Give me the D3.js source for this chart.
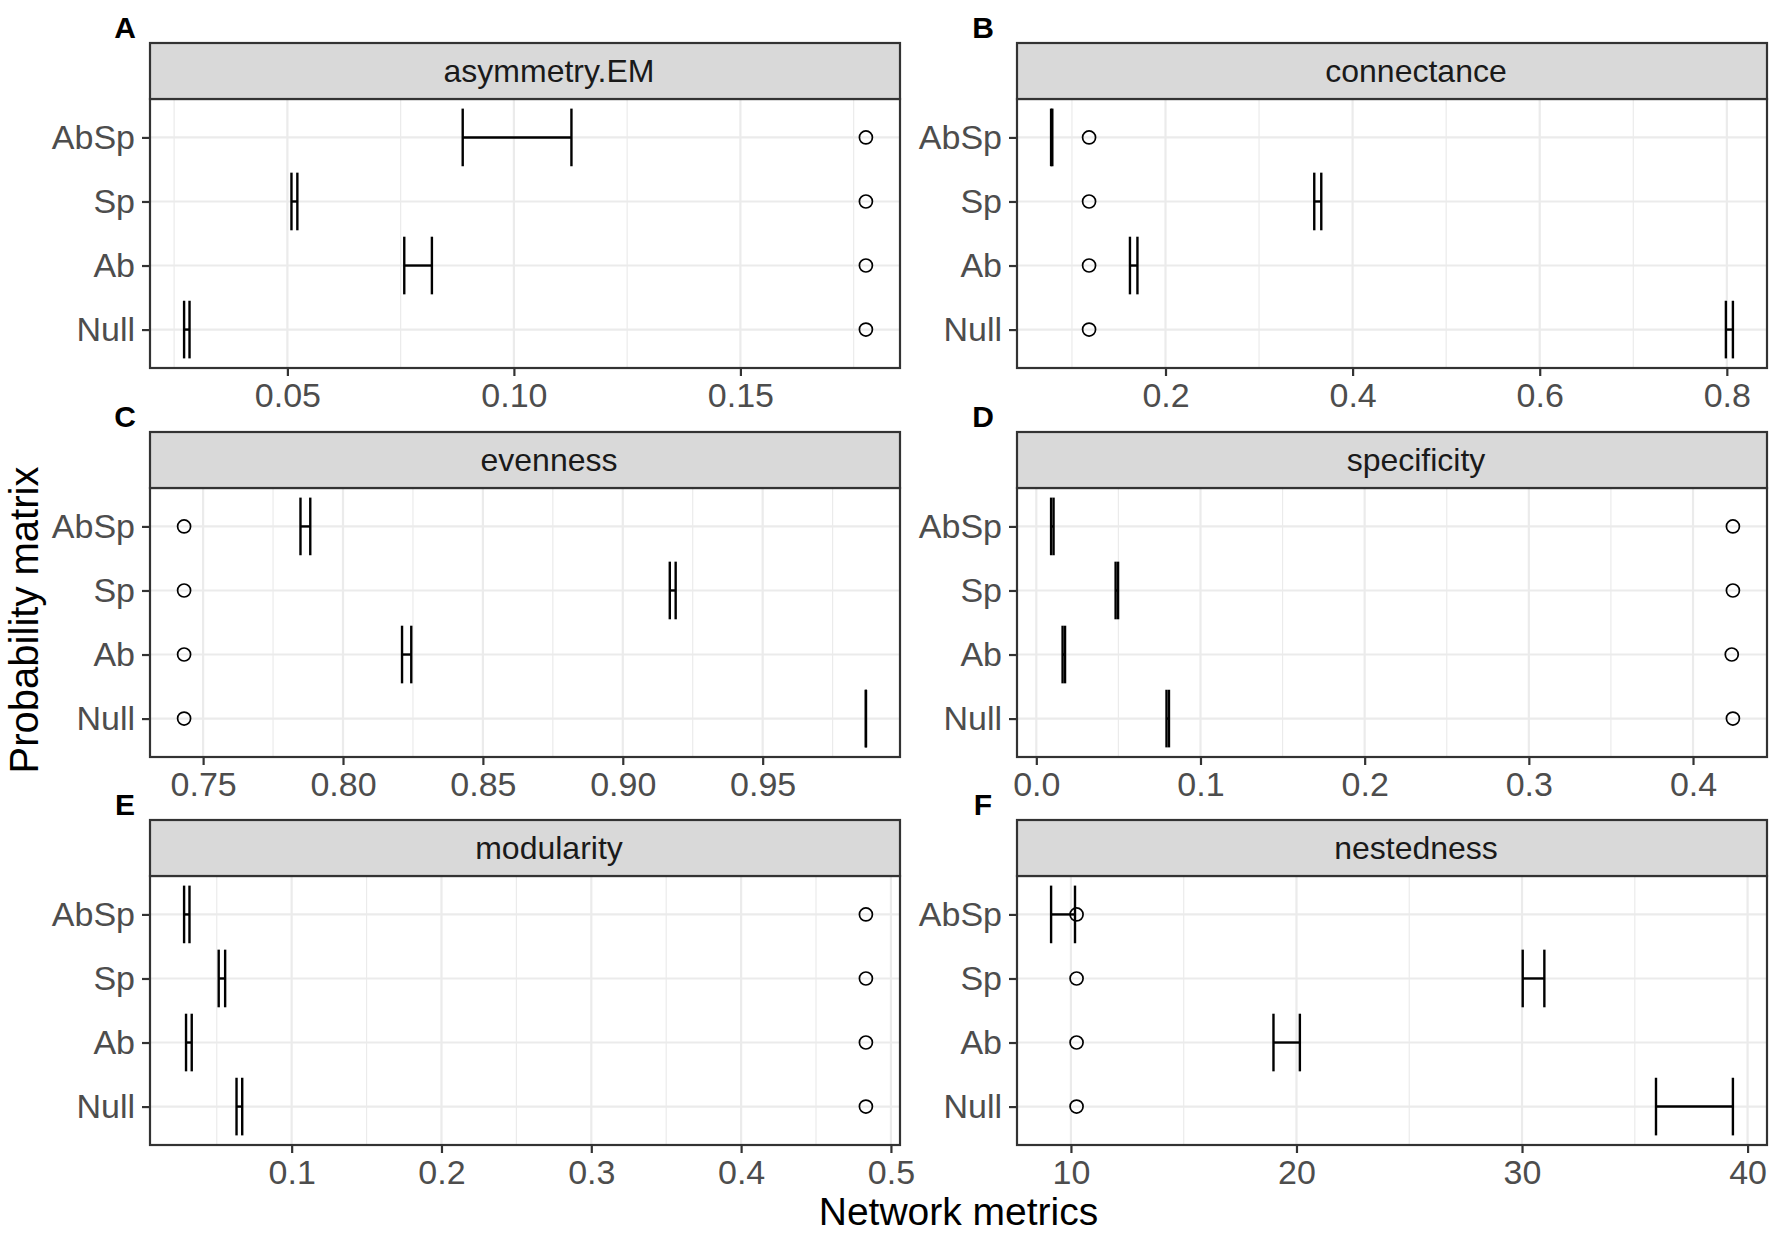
<!DOCTYPE html>
<html>
<head>
<meta charset="utf-8">
<script src="https://cdn.jsdelivr.net/npm/d3@7"></script>
<style>
  body { margin: 0; background: #fff; }
  text { font-family: "Liberation Sans", Arial, sans-serif; }
</style>
</head>
<body>
<div id="chart"></div>
<script>
// row categories, top to bottom
var rowLabels = ["AbSp", "Sp", "Ab", "Null"];

var metricNames = ["asymmetry.EM", "connectance", "evenness", "specificity", "modularity", "nestedness"];
var panelLetters = ["A", "B", "C", "D", "E", "F"];

// null model intervals (low / high) and observed value, order = rowLabels
var asymmetryLow = [0.0887, 0.0509, 0.0758, 0.0272];
var asymmetryHigh = [0.1127, 0.0522, 0.0819, 0.0284];
var asymmetryObs = [0.1777, 0.1777, 0.1777, 0.1777];

var connectanceLow = [0.0777, 0.3590, 0.1620, 0.7990];
var connectanceHigh = [0.0790, 0.3665, 0.1700, 0.8065];
var connectanceObs = [0.1183, 0.1183, 0.1183, 0.1183];

var evennessLow = [0.7848, 0.9168, 0.8211, 0.9869];
var evennessHigh = [0.7883, 0.9189, 0.8244, 0.9869];
var evennessObs = [0.7432, 0.7432, 0.7432, 0.7432];

var specificityLow = [0.0090, 0.0483, 0.0160, 0.0793];
var specificityHigh = [0.0105, 0.0498, 0.0175, 0.0808];
var specificityObs = [0.4243, 0.4243, 0.4236, 0.4243];

var modularityLow = [0.0282, 0.0513, 0.0295, 0.0632];
var modularityHigh = [0.0318, 0.0556, 0.0333, 0.0670];
var modularityObs = [0.4833, 0.4833, 0.4833, 0.4833];

var nestednessLow = [9.12, 30.03, 18.98, 35.94];
var nestednessHigh = [10.18, 30.99, 20.15, 39.35];
var nestednessObs = [10.25, 10.25, 10.25, 10.25];

// axis ticks
var asymmetryTicks = [0.05, 0.10, 0.15];
var asymmetryTickLabels = ["0.05", "0.10", "0.15"];
var connectanceTicks = [0.2, 0.4, 0.6, 0.8];
var connectanceTickLabels = ["0.2", "0.4", "0.6", "0.8"];
var evennessTicks = [0.75, 0.80, 0.85, 0.90, 0.95];
var evennessTickLabels = ["0.75", "0.80", "0.85", "0.90", "0.95"];
var specificityTicks = [0.0, 0.1, 0.2, 0.3, 0.4];
var specificityTickLabels = ["0.0", "0.1", "0.2", "0.3", "0.4"];
var modularityTicks = [0.1, 0.2, 0.3, 0.4, 0.5];
var modularityTickLabels = ["0.1", "0.2", "0.3", "0.4", "0.5"];
var nestednessTicks = [10, 20, 30, 40];
var nestednessTickLabels = ["10", "20", "30", "40"];

var panels = [
  { low: asymmetryLow, high: asymmetryHigh, obs: asymmetryObs, ticks: asymmetryTicks, labels: asymmetryTickLabels },
  { low: connectanceLow, high: connectanceHigh, obs: connectanceObs, ticks: connectanceTicks, labels: connectanceTickLabels },
  { low: evennessLow, high: evennessHigh, obs: evennessObs, ticks: evennessTicks, labels: evennessTickLabels },
  { low: specificityLow, high: specificityHigh, obs: specificityObs, ticks: specificityTicks, labels: specificityTickLabels },
  { low: modularityLow, high: modularityHigh, obs: modularityObs, ticks: modularityTicks, labels: modularityTickLabels },
  { low: nestednessLow, high: nestednessHigh, obs: nestednessObs, ticks: nestednessTicks, labels: nestednessTickLabels }
];

// layout
var width = 1775, height = 1233;
var colX = [150, 1017];
var letterX = [125, 983];
var panelW = 750;
var stripTop = [43, 432, 820];
var stripH = 56;
var panelH = 269;
var stripTextShift = 24;

var svg = d3.select("#chart").append("svg")
  .attr("width", width)
  .attr("height", height);

panels.forEach(function (p, i) {
  var col = i % 2, row = Math.floor(i / 2);
  var x0 = colX[col];
  var top = stripTop[row] + stripH;

  var g = svg.append("g").attr("transform", "translate(" + x0 + "," + top + ")");

  // x scale with ggplot style 5% expansion
  var all = p.low.concat(p.high, p.obs);
  var ext = d3.extent(all);
  var pad = (ext[1] - ext[0]) * 0.05;
  var x = d3.scaleLinear().domain([ext[0] - pad, ext[1] + pad]).range([0, panelW]);
  var y = d3.scalePoint().domain(rowLabels).range([0, panelH]).padding(0.6);

  // minor grid between major breaks
  var step = p.ticks[1] - p.ticks[0];
  var minor = [p.ticks[0] - step / 2];
  p.ticks.forEach(function (t) { minor.push(t + step / 2); });
  minor = minor.filter(function (m) { return m > x.domain()[0] && m < x.domain()[1]; });

  g.selectAll(".minor").data(minor).enter().append("line")
    .attr("x1", function (d) { return x(d); })
    .attr("x2", function (d) { return x(d); })
    .attr("y1", 0).attr("y2", panelH)
    .attr("stroke", "#EBEBEB").attr("stroke-width", 1.2);

  g.selectAll(".majorx").data(p.ticks).enter().append("line")
    .attr("x1", function (d) { return x(d); })
    .attr("x2", function (d) { return x(d); })
    .attr("y1", 0).attr("y2", panelH)
    .attr("stroke", "#EBEBEB").attr("stroke-width", 2.2);

  g.selectAll(".majory").data(rowLabels).enter().append("line")
    .attr("x1", 0).attr("x2", panelW)
    .attr("y1", function (d) { return y(d); })
    .attr("y2", function (d) { return y(d); })
    .attr("stroke", "#EBEBEB").attr("stroke-width", 2.2);

  // error bars
  var half = y.step() * 0.45;
  var bars = g.selectAll(".bar").data(rowLabels).enter().append("g");
  bars.append("line")
    .attr("x1", function (d, k) { return x(p.low[k]); })
    .attr("x2", function (d, k) { return x(p.high[k]); })
    .attr("y1", function (d) { return y(d); })
    .attr("y2", function (d) { return y(d); })
    .attr("stroke", "#000").attr("stroke-width", 2.4);
  bars.append("line")
    .attr("x1", function (d, k) { return x(p.low[k]); })
    .attr("x2", function (d, k) { return x(p.low[k]); })
    .attr("y1", function (d) { return y(d) - half; })
    .attr("y2", function (d) { return y(d) + half; })
    .attr("stroke", "#000").attr("stroke-width", 2.4);
  bars.append("line")
    .attr("x1", function (d, k) { return x(p.high[k]); })
    .attr("x2", function (d, k) { return x(p.high[k]); })
    .attr("y1", function (d) { return y(d) - half; })
    .attr("y2", function (d) { return y(d) + half; })
    .attr("stroke", "#000").attr("stroke-width", 2.4);

  // observed values
  g.selectAll(".obs").data(rowLabels).enter().append("circle")
    .attr("cx", function (d, k) { return x(p.obs[k]); })
    .attr("cy", function (d) { return y(d); })
    .attr("r", 6.5)
    .attr("fill", "none")
    .attr("stroke", "#000")
    .attr("stroke-width", 1.7);

  // panel border
  g.append("rect")
    .attr("width", panelW).attr("height", panelH)
    .attr("fill", "none").attr("stroke", "#333333").attr("stroke-width", 2.2);

  // axes
  var xAxis = g.append("g")
    .attr("transform", "translate(0," + panelH + ")")
    .call(d3.axisBottom(x).tickValues(p.ticks)
      .tickFormat(function (d, k) { return p.labels[k]; })
      .tickSize(8).tickSizeOuter(0).tickPadding(7));
  var yAxis = g.append("g")
    .call(d3.axisLeft(y).tickSize(8).tickSizeOuter(0).tickPadding(7));

  [xAxis, yAxis].forEach(function (a) {
    a.select(".domain").remove();
    a.selectAll("line").attr("stroke", "#333333").attr("stroke-width", 2.2);
    a.selectAll("text")
      .style("font-family", "'Liberation Sans', Arial, sans-serif")
      .style("font-size", "34px")
      .attr("fill", "#4D4D4D");
  });

  // strip
  svg.append("rect")
    .attr("x", x0).attr("y", stripTop[row])
    .attr("width", panelW).attr("height", stripH)
    .attr("fill", "#D9D9D9").attr("stroke", "#333333").attr("stroke-width", 2.2);
  svg.append("text")
    .attr("x", x0 + panelW / 2 + stripTextShift)
    .attr("y", stripTop[row] + stripH / 2)
    .attr("dy", "0.35em")
    .attr("text-anchor", "middle")
    .style("font-size", "32px")
    .attr("fill", "#1A1A1A")
    .text(metricNames[i]);

  // panel letter
  svg.append("text")
    .attr("x", letterX[col])
    .attr("y", stripTop[row] - 5)
    .attr("text-anchor", "middle")
    .style("font-size", "30px")
    .style("font-weight", "bold")
    .text(panelLetters[i]);
});

// shared axis titles
svg.append("text")
  .attr("x", (colX[0] + colX[1] + panelW) / 2)
  .attr("y", 1224.5)
  .attr("text-anchor", "middle")
  .style("font-size", "39px")
  .text("Network metrics");

svg.append("text")
  .attr("transform", "translate(38,620) rotate(-90)")
  .attr("text-anchor", "middle")
  .style("font-size", "40px")
  .text("Probability matrix");
</script>
</body>
</html>
